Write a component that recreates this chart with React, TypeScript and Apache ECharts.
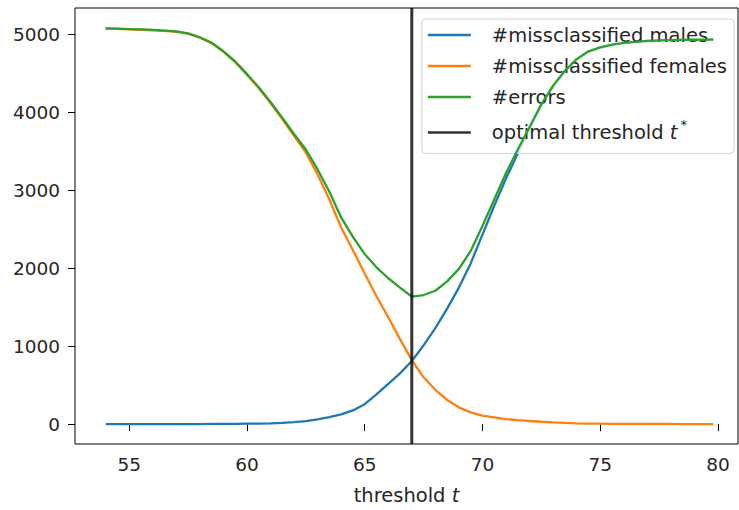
import React, { useEffect, useRef } from "react";
import * as echarts from "echarts";

const thresholds = [
  54, 54.5, 55, 55.5, 56, 56.5, 57, 57.5, 58, 58.5, 59, 59.5, 60, 60.5, 61, 61.5, 62, 62.5, 63, 63.5,
  64, 64.5, 65, 65.5, 66, 66.5, 67, 67.5, 68, 68.5, 69, 69.5, 70, 70.5, 71, 71.5, 72, 72.5, 73, 73.5,
  74, 74.5, 75, 75.5, 76, 76.5, 77, 77.5, 78, 78.5, 79, 79.5, 79.8,
];
const males = [
  0, 0, 0, 0, 0, 0, 1, 1, 1, 2, 2, 3, 5, 7, 10, 15, 25, 38, 60, 90,
  125, 175, 255, 380, 515, 650, 810, 1010, 1230, 1480, 1750, 2060, 2430, 2800, 3150, 3470, 3770, 4080, 4320, 4520,
  4670, 4770, 4825, 4860, 4885, 4900, 4912, 4918, 4922, 4925, 4927, 4928, 4930,
];
const females = [
  5072, 5068, 5062, 5056, 5050, 5042, 5030, 5005, 4955, 4885, 4775, 4640, 4480, 4310, 4115, 3910, 3695, 3480, 3200, 2880,
  2520, 2230, 1930, 1640, 1370, 1090, 820, 600, 440, 310, 215, 150, 110, 85, 65, 50, 40, 30, 22, 15,
  10, 7, 5, 4, 3, 3, 2, 2, 2, 1, 1, 1, 1,
];
const errors = [
  5075, 5070, 5065, 5060, 5055, 5045, 5035, 5010, 4960, 4890, 4780, 4650, 4490, 4320, 4130, 3930, 3720, 3520, 3265, 2980,
  2650, 2400, 2180, 2010, 1870, 1750, 1635, 1655, 1710, 1830, 1990, 2220, 2540, 2880, 3220, 3520, 3810, 4100, 4340, 4530,
  4680, 4780, 4830, 4865, 4888, 4902, 4914, 4920, 4924, 4926, 4928, 4929, 4931,
];
const optimalThreshold = 67;
const xTicks = [55, 60, 65, 70, 75, 80];
const yTicks = [0, 1000, 2000, 3000, 4000, 5000];
const seriesNames = ["#missclassified males", "#missclassified females", "#errors", "optimal threshold"];

const FONT = "DejaVu Sans";
const TXT = "#262626";

export default function App() {
  const ref = useRef<HTMLDivElement>(null);
  useEffect(() => {
    if (!ref.current) return;
    const chart = echarts.init(ref.current, null, { renderer: "svg" });
    const pair = (ys: number[]) => thresholds.map((x, i) => [x, ys[i]]);
    const yMin = -255;
    const yMax = 5335;
    chart.setOption({
      animation: false,
      textStyle: { fontFamily: FONT },
      grid: {
        left: 75,
        right: 1,
        top: 8,
        bottom: 66,
        show: true,
        borderColor: "#000",
        borderWidth: 1,
        backgroundColor: "transparent",
      },
      xAxis: {
        type: "value",
        min: 52.7,
        max: 80.85,
        name: "threshold {i|t}",
        nameLocation: "middle",
        nameGap: 41,
        nameTextStyle: {
          fontFamily: FONT,
          fontSize: 19.5,
          color: TXT,
          rich: { i: { fontStyle: "italic", fontFamily: FONT, fontSize: 19.5, color: TXT } },
        },
        axisLine: { show: false },
        splitLine: { show: false },
        axisTick: { show: true, inside: false, length: 7, lineStyle: { color: "#000" }, customValues: xTicks },
        axisLabel: { fontSize: 18.5, color: TXT, margin: 11, customValues: xTicks, fontFamily: FONT },
      },
      yAxis: {
        type: "value",
        min: yMin,
        max: yMax,
        axisLine: { show: false },
        splitLine: { show: false },
        axisTick: { show: true, inside: false, length: 7, lineStyle: { color: "#000" }, customValues: yTicks },
        axisLabel: {
          fontSize: 18.5,
          color: TXT,
          margin: 15,
          customValues: yTicks,
          fontFamily: FONT,
          formatter: (v: number) => String(v),
        },
      },
      legend: {
        orient: "vertical",
        right: 5,
        top: 19,
        data: seriesNames,
        icon: "rect",
        itemWidth: 43,
        itemHeight: 2.7,
        itemGap: 11,
        padding: [6, 7, 11, 6],
        backgroundColor: "rgba(255,255,255,0.8)",
        borderColor: "#d4d4d4",
        borderWidth: 1,
        borderRadius: 4,
        textStyle: {
          fontFamily: FONT,
          fontSize: 19.5,
          lineHeight: 20,
          color: TXT,
          padding: [0, 0, 0, 16],
          rich: {
            i: { fontStyle: "italic", fontFamily: FONT, fontSize: 19.5, lineHeight: 20, color: TXT },
            s: { fontFamily: FONT, fontSize: 13, color: TXT, padding: [0, 0, 16, 3] },
          },
        },
        formatter: (name: string) => (name === "optimal threshold" ? "optimal threshold {i|t}{s|*}" : name),
      },
      series: [
        {
          name: seriesNames[0],
          type: "line",
          data: pair(males),
          showSymbol: false,
          color: "#1f77b4",
          lineStyle: { width: 2.3, color: "#1f77b4" },
          z: 2,
        },
        {
          name: seriesNames[1],
          type: "line",
          data: pair(females),
          showSymbol: false,
          color: "#ff7f0e",
          lineStyle: { width: 2.3, color: "#ff7f0e" },
          z: 3,
        },
        {
          name: seriesNames[2],
          type: "line",
          data: pair(errors),
          showSymbol: false,
          color: "#2ca02c",
          lineStyle: { width: 2.3, color: "#2ca02c" },
          z: 4,
        },
        {
          name: seriesNames[3],
          type: "line",
          data: [
            [optimalThreshold, yMin],
            [optimalThreshold, yMax],
          ],
          showSymbol: false,
          color: "#333",
          lineStyle: { width: 3, color: "rgba(0,0,0,0.8)" },
          z: 5,
        },
      ],
    });
    return () => chart.dispose();
  }, []);
  return (
    <div
      ref={ref}
      style={{ position: "fixed", left: 0, top: 0, width: 739, height: 510, background: "#fff" }}
    />
  );
}
